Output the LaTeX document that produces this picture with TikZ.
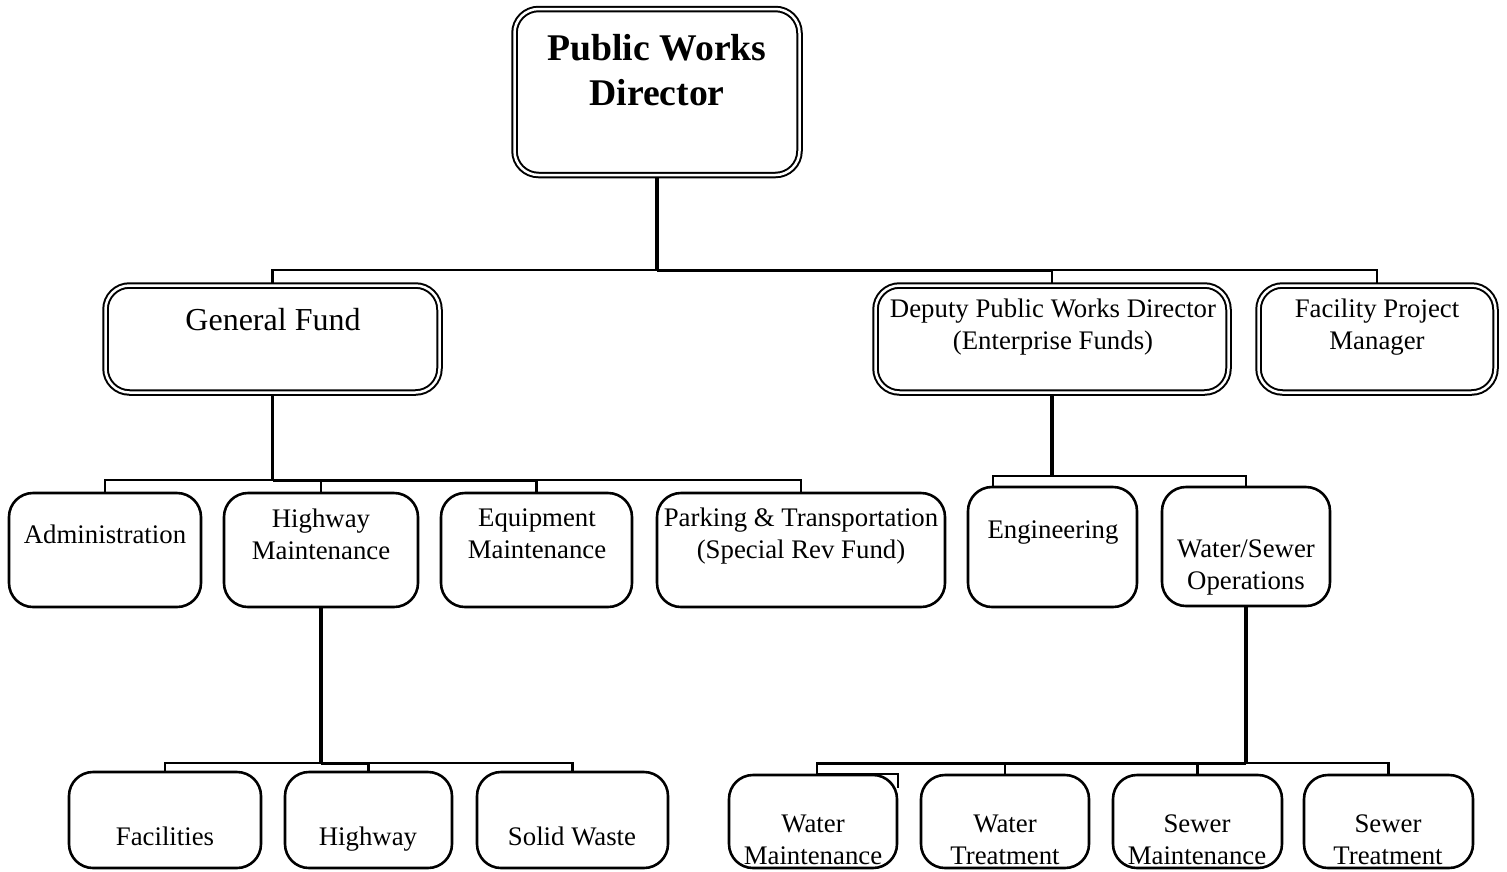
\documentclass[tikz,border=0pt]{standalone}
\usepackage{fontspec}
\setmainfont{Liberation Serif}
\usetikzlibrary{backgrounds}
\begin{document}
\begin{tikzpicture}[x=1pt,y=-1pt,
  dbox/.style={draw, double, double distance=2.5pt, line width=2pt,
               rounded corners=24pt, fill=white, inner sep=0pt},
  sbox/.style={draw, line width=2.6pt, rounded corners=24pt, fill=white, inner sep=0pt},
  lbl/.style={inner sep=0pt, align=center, font=\fontsize{26.8}{32}\selectfont},
  trunk/.style={line width=3.5pt},
  thickrun/.style={line width=3pt},
  branch/.style={line width=2.1pt},
]
\useasboundingbox (0,0) rectangle (1507,871);

% ---- top level ----
\node[dbox, minimum width=285pt, minimum height=166pt] (pwd) at (657,92) {};
\node[lbl, font=\bfseries\fontsize{37.7}{45}\selectfont] (pwd-t) at (657,70) {Public Works\\Director};

% ---- second level ----
\node[dbox, minimum width=334pt, minimum height=107pt] (gf) at (272.5,339) {};
\node[lbl, font=\fontsize{32}{38}\selectfont] (gf-t) at (273,320) {General Fund};
\node[dbox, minimum width=353pt, minimum height=107pt] (dep) at (1052,339) {};
\node[lbl] (dep-t) at (1053,327) {Deputy Public Works Director\\(Enterprise Funds)};
\node[dbox, minimum width=237pt, minimum height=107pt] (fpm) at (1377,339) {};
\node[lbl] (fpm-t) at (1377,327) {Facility Project\\Manager};

% ---- third level ----
\node[sbox, minimum width=192pt, minimum height=114pt] (adm) at (105,550) {};
\node[lbl] (adm-t) at (105,534) {Administration};
\node[sbox, minimum width=194pt, minimum height=114pt] (hwm) at (321,550) {};
\node[lbl] (hwm-t) at (321,534) {Highway\\Maintenance};
\node[sbox, minimum width=191pt, minimum height=114pt] (eqm) at (536.5,550) {};
\node[lbl] (eqm-t) at (537,534) {Equipment\\Maintenance};
\node[sbox, minimum width=288pt, minimum height=114pt] (pkg) at (801,550) {};
\node[lbl] (pkg-t) at (801,536.5) {Parking \& Transportation\\(Special Rev Fund)};
\node[sbox, minimum width=169pt, minimum height=120pt] (eng) at (1052.5,547) {};
\node[lbl] (eng-t) at (1053,533) {Engineering};
\node[sbox, minimum width=168pt, minimum height=119pt] (wso) at (1246,546.5) {};
\node[lbl] (wso-t) at (1246,567) {Water/Sewer\\Operations};

% ---- fourth level ----
\node[sbox, minimum width=192pt, minimum height=96pt] (fac) at (165,820) {};
\node[lbl] (fac-t) at (165,836.5) {Facilities};
\node[sbox, minimum width=167pt, minimum height=96pt] (hwy) at (368.5,820) {};
\node[lbl] (hwy-t) at (368,839.5) {Highway};
\node[sbox, minimum width=191pt, minimum height=96pt] (sw) at (572.5,820) {};
\node[lbl] (sw-t) at (572,836.5) {Solid Waste};
\node[sbox, minimum width=168pt, minimum height=93pt] (wm) at (813,821.5) {};
\node[lbl] (wm-t) at (813,840) {Water\\Maintenance};
\node[sbox, minimum width=168pt, minimum height=93pt] (wt) at (1005,821.5) {};
\node[lbl] (wt-t) at (1005,840) {Water\\Treatment};
\node[sbox, minimum width=169pt, minimum height=93pt] (sm) at (1197.5,821.5) {};
\node[lbl] (sm-t) at (1197,840) {Sewer\\Maintenance};
\node[sbox, minimum width=169pt, minimum height=93pt] (st) at (1388.5,821.5) {};
\node[lbl] (st-t) at (1388,840) {Sewer\\Treatment};

% square corner overlapping the Water Maintenance box
\coordinate (wmdrop) at ([xshift=4pt]wm.north);
\draw[branch] (wmdrop) -| ([yshift=-14pt]wm.north east);

% ---- connectors ----
\begin{scope}[on background layer]
  \coordinate (j1) at (657,270);
  \draw[trunk] (pwd.south) -- (j1);
  \draw[branch] (j1) -| (gf.north);
  \draw[branch] (j1) -| (dep.north);
  \draw[branch] (j1) -| (fpm.north);
  \draw[thickrun] (j1) -- (j1 -| dep.north);

  \coordinate (j2) at (272.5,480);
  \draw[trunk] (gf.south) -- (j2);
  \draw[branch] (j2) -| (adm.north);
  \draw[branch] (j2) -| (hwm.north);
  \draw[branch] (j2) -| (eqm.north);
  \draw[branch] (j2) -| (pkg.north);
  \draw[thickrun] (j2) -- (j2 -| eqm.north);

  \coordinate (j3) at (1052,476);
  \coordinate (engdrop) at ([xshift=-59.5pt]eng.north);
  \draw[trunk] (dep.south) -- (j3);
  \draw[branch] (j3) -| (engdrop);
  \draw[branch] (j3) -| (wso.north);

  \coordinate (j4) at (321,763);
  \draw[trunk] (hwm.south) -- (j4);
  \draw[branch] (j4) -| (fac.north);
  \draw[branch] (j4) -| (hwy.north);
  \draw[branch] (j4) -| (sw.north);
  \draw[thickrun] (j4) -- (j4 -| hwy.north);

  \coordinate (j5) at (1246,763);
  \draw[trunk] (wso.south) -- (j5);
  \draw[branch] (j5) -| (wmdrop);
  \draw[branch] (j5) -| (wt.north);
  \draw[branch] (j5) -| (sm.north);
  \draw[branch] (j5) -| (st.north);
  \draw[thickrun] (j5) -- (j5 -| wmdrop);
\end{scope}
\end{tikzpicture}
\end{document}
